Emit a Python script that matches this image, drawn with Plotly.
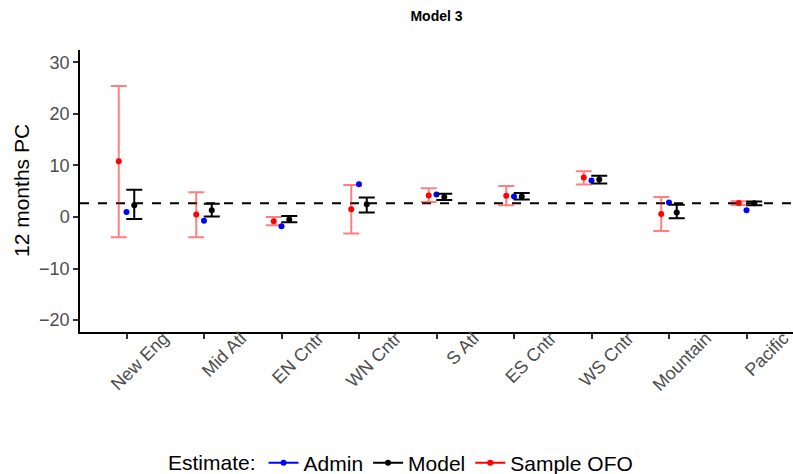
import plotly.graph_objects as go

regions = ["New Eng", "Mid Atl", "EN Cntr", "WN Cntr", "S Atl", "ES Cntr", "WS Cntr", "Mountain", "Pacific"]

sample_val = [10.8, 0.5, -0.8, 1.5, 4.2, 4.15, 7.65, 0.6, 2.7]
sample_hi = [25.4, 4.8, 0.0, 6.2, 5.6, 6.0, 8.9, 3.9, 3.05]
sample_lo = [-3.9, -3.9, -1.6, -3.2, 2.9, 2.3, 6.3, -2.7, 2.35]

admin_val = [1.0, -0.7, -1.8, 6.35, 4.35, 4.0, 7.1, 2.8, 1.3]

model_val = [2.3, 1.3, -0.5, 2.5, 3.9, 4.0, 7.3, 0.9, 2.65]
model_hi = [5.3, 2.6, 0.2, 3.8, 4.5, 4.65, 8.0, 2.4, 3.0]
model_lo = [-0.4, 0.1, -1.0, 0.9, 3.3, 3.4, 6.5, -0.25, 2.3]

reference_value = 2.66

y_ticks = [-20, -10, 0, 10, 20, 30]
y_tick_text = ["\u221220", "\u221210", "0", "10", "20", "30"]

pos = list(range(1, len(regions) + 1))
dodge = 0.1
FONT = "Liberation Sans, Arial, sans-serif"

fig = go.Figure()

fig.add_shape(type="line", xref="paper", x0=0, x1=1, yref="y",
              y0=reference_value, y1=reference_value,
              line=dict(color="black", width=2, dash="dash"), layer="below")

fig.add_trace(go.Scatter(
    x=[p - dodge for p in pos], y=sample_val, mode="markers",
    marker=dict(color="red", size=6),
    error_y=dict(type="data", symmetric=False,
                 array=[h - v for h, v in zip(sample_hi, sample_val)],
                 arrayminus=[v - l for v, l in zip(sample_val, sample_lo)],
                 color="rgba(255,0,0,0.5)", thickness=2, width=8),
    showlegend=False))

fig.add_trace(go.Scatter(
    x=pos, y=admin_val, mode="markers",
    marker=dict(color="blue", size=6), showlegend=False))

fig.add_trace(go.Scatter(
    x=[p + dodge for p in pos], y=model_val, mode="markers",
    marker=dict(color="black", size=6),
    error_y=dict(type="data", symmetric=False,
                 array=[h - v for h, v in zip(model_hi, model_val)],
                 arrayminus=[v - l for v, l in zip(model_val, model_lo)],
                 color="black", thickness=2, width=8),
    showlegend=False))

for name, col in [("Admin", "blue"), ("Model", "black"), ("Sample OFO", "red")]:
    fig.add_trace(go.Scatter(x=[None], y=[None], mode="lines+markers", name=name,
                             marker=dict(color=col, size=6),
                             line=dict(color=col, width=2)))

fig.update_layout(
    width=793, height=474,
    margin=dict(l=80, r=0, t=50, b=142),
    plot_bgcolor="white", paper_bgcolor="white",
    font=dict(family=FONT),
    title=dict(text="<b>Model 3</b>", x=0.5, xref="paper", xanchor="center",
               y=1 - 16 / 474, yref="container", yanchor="middle",
               font=dict(size=14, color="black")),
    xaxis=dict(range=[0.4, 9.6], tickvals=pos, ticktext=regions, tickangle=-45,
               ticklabelshift=37, ticklabelstandoff=-18, ticklabeloverflow="allow",
               showline=True, linecolor="black", linewidth=1.5, showgrid=False,
               zeroline=False, ticks="outside", ticklen=5, tickcolor="#333333",
               tickwidth=1.5, tickfont=dict(size=18, color="#4D4D4D")),
    yaxis=dict(range=[-22.3, 32.4], tickvals=y_ticks, ticktext=y_tick_text,
               showline=True, linecolor="black", linewidth=1.5, showgrid=False,
               zeroline=False, ticks="outside", ticklen=5, tickcolor="#333333",
               tickwidth=1.5, tickfont=dict(size=18, color="#4D4D4D")),
    legend=dict(orientation="h", xref="container", x=402 / 793, xanchor="center",
                yref="container", y=1 - 463 / 474, yanchor="middle",
                title=dict(text="Estimate:", side="left", font=dict(size=21, color="black")),
                font=dict(size=21, color="black"), itemwidth=30),
    annotations=[dict(text="12 months PC", xref="paper", yref="paper",
                      x=(21 - 80) / 713, y=0.5, textangle=-90, showarrow=False,
                      xanchor="center", yanchor="middle",
                      font=dict(size=21, color="black"))],
)

fig.write_html("out.html")
